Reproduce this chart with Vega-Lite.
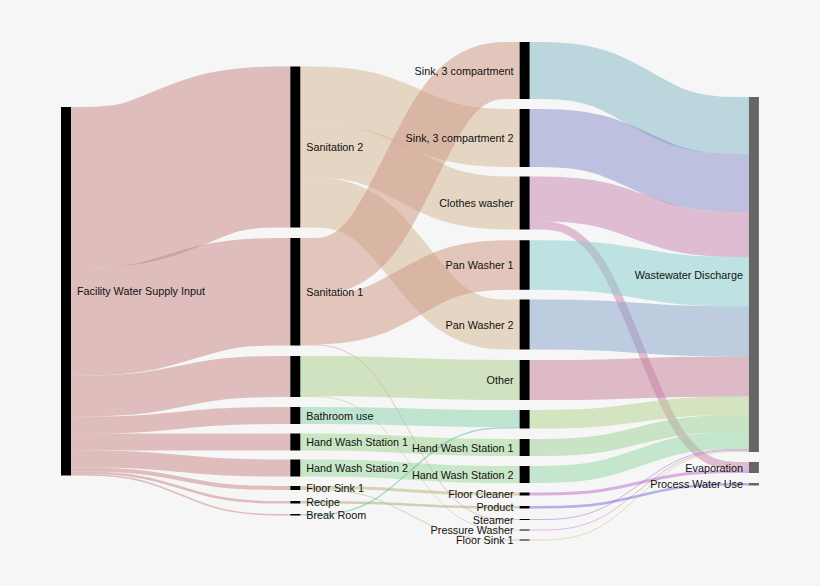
{
  "$schema": "https://vega.github.io/schema/vega-lite/v6.json",
  "width": 820,
  "height": 586,
  "autosize": {"type": "none"},
  "padding": 0,
  "background": "#f6f6f6",
  "config": {"view": {"stroke": null}},
  "datasets": {
    "nodes": [
      {"id": "Facility", "label": "Facility Water Supply Input", "s": 0, "x0": 0, "x1": 0.0436, "y0": 107, "y1": 475.5, "ym": 291.25},
      {"id": "San2", "label": "Sanitation 2", "s": 1, "x0": 1, "x1": 1.0436, "y0": 66.5, "y1": 227.5, "ym": 147},
      {"id": "San1", "label": "Sanitation 1", "s": 1, "x0": 1, "x1": 1.0436, "y0": 238, "y1": 345.5, "ym": 291.75},
      {"id": "Other1", "label": "", "s": 1, "x0": 1, "x1": 1.0436, "y0": 356, "y1": 397, "ym": 376.5},
      {"id": "Bath", "label": "Bathroom use", "s": 1, "x0": 1, "x1": 1.0436, "y0": 407, "y1": 424, "ym": 415.5},
      {"id": "HWS1a", "label": "Hand Wash Station 1", "s": 1, "x0": 1, "x1": 1.0436, "y0": 433.5, "y1": 450.5, "ym": 442},
      {"id": "HWS2a", "label": "Hand Wash Station 2", "s": 1, "x0": 1, "x1": 1.0436, "y0": 459.5, "y1": 476.5, "ym": 468},
      {"id": "FS1a", "label": "Floor Sink 1", "s": 1, "x0": 1, "x1": 1.0436, "y0": 486, "y1": 490, "ym": 488},
      {"id": "Recipe", "label": "Recipe", "s": 1, "x0": 1, "x1": 1.0436, "y0": 501, "y1": 503.5, "ym": 502.25},
      {"id": "Break", "label": "Break Room", "s": 1, "x0": 1, "x1": 1.0436, "y0": 514, "y1": 515.5, "ym": 514.75},
      {"id": "Sink3c", "label": "Sink, 3 compartment", "s": 2, "x0": 2, "x1": 2.0436, "y0": 42, "y1": 99, "ym": 70.5},
      {"id": "Sink3c2", "label": "Sink, 3 compartment 2", "s": 2, "x0": 2, "x1": 2.0436, "y0": 109, "y1": 167, "ym": 138},
      {"id": "CW", "label": "Clothes washer", "s": 2, "x0": 2, "x1": 2.0436, "y0": 176.5, "y1": 229.5, "ym": 203},
      {"id": "PW1", "label": "Pan Washer 1", "s": 2, "x0": 2, "x1": 2.0436, "y0": 240.25, "y1": 289.75, "ym": 265},
      {"id": "PW2", "label": "Pan Washer 2", "s": 2, "x0": 2, "x1": 2.0436, "y0": 299.5, "y1": 349.5, "ym": 324.5},
      {"id": "Other", "label": "Other", "s": 2, "x0": 2, "x1": 2.0436, "y0": 360, "y1": 400, "ym": 380},
      {"id": "Bath2", "label": "", "s": 2, "x0": 2, "x1": 2.0436, "y0": 410, "y1": 428.5, "ym": 419.25},
      {"id": "HWS1b", "label": "Hand Wash Station 1", "s": 2, "x0": 2, "x1": 2.0436, "y0": 439, "y1": 456, "ym": 447.5},
      {"id": "HWS2b", "label": "Hand Wash Station 2", "s": 2, "x0": 2, "x1": 2.0436, "y0": 466, "y1": 483, "ym": 474.5},
      {"id": "FC", "label": "Floor Cleaner", "s": 2, "x0": 2, "x1": 2.0436, "y0": 492.5, "y1": 495.5, "ym": 494},
      {"id": "Product", "label": "Product", "s": 2, "x0": 2, "x1": 2.0436, "y0": 506, "y1": 508.5, "ym": 507.25},
      {"id": "Steamer", "label": "Steamer", "s": 2, "x0": 2, "x1": 2.0436, "y0": 519, "y1": 520, "ym": 519.5},
      {"id": "PWash", "label": "Pressure Washer", "s": 2, "x0": 2, "x1": 2.0436, "y0": 529.5, "y1": 530.5, "ym": 530},
      {"id": "FS1b", "label": "Floor Sink 1", "s": 2, "x0": 2, "x1": 2.0436, "y0": 539.5, "y1": 540.5, "ym": 540},
      {"id": "WD", "label": "Wastewater Discharge", "s": 3, "x0": 3, "x1": 3.0436, "y0": 97, "y1": 452, "ym": 274.5},
      {"id": "Evap", "label": "Evaporation", "s": 3, "x0": 3, "x1": 3.0436, "y0": 462, "y1": 473, "ym": 467.5},
      {"id": "PWU", "label": "Process Water Use", "s": 3, "x0": 3, "x1": 3.0436, "y0": 483, "y1": 485.5, "ym": 484.25}
    ],
    "links": [
      {"l": 1, "c": "Facility", "w": 161, "t": 0, "x": 0.0436, "y": 187.5},
      {"l": 1, "c": "Facility", "w": 161, "t": 1, "x": 0.3624, "y": 187.5},
      {"l": 1, "c": "Facility", "w": 161, "t": 2, "x": 0.6812, "y": 147},
      {"l": 1, "c": "Facility", "w": 161, "t": 3, "x": 1, "y": 147},
      {"l": 2, "c": "Facility", "w": 107.5, "t": 0, "x": 0.0436, "y": 321.75},
      {"l": 2, "c": "Facility", "w": 107.5, "t": 1, "x": 0.3624, "y": 321.75},
      {"l": 2, "c": "Facility", "w": 107.5, "t": 2, "x": 0.6812, "y": 291.75},
      {"l": 2, "c": "Facility", "w": 107.5, "t": 3, "x": 1, "y": 291.75},
      {"l": 3, "c": "Facility", "w": 41, "t": 0, "x": 0.0436, "y": 396},
      {"l": 3, "c": "Facility", "w": 41, "t": 1, "x": 0.3624, "y": 396},
      {"l": 3, "c": "Facility", "w": 41, "t": 2, "x": 0.6812, "y": 376.5},
      {"l": 3, "c": "Facility", "w": 41, "t": 3, "x": 1, "y": 376.5},
      {"l": 4, "c": "Facility", "w": 17, "t": 0, "x": 0.0436, "y": 425},
      {"l": 4, "c": "Facility", "w": 17, "t": 1, "x": 0.3624, "y": 425},
      {"l": 4, "c": "Facility", "w": 17, "t": 2, "x": 0.6812, "y": 415.5},
      {"l": 4, "c": "Facility", "w": 17, "t": 3, "x": 1, "y": 415.5},
      {"l": 5, "c": "Facility", "w": 17, "t": 0, "x": 0.0436, "y": 442},
      {"l": 5, "c": "Facility", "w": 17, "t": 1, "x": 0.3624, "y": 442},
      {"l": 5, "c": "Facility", "w": 17, "t": 2, "x": 0.6812, "y": 442},
      {"l": 5, "c": "Facility", "w": 17, "t": 3, "x": 1, "y": 442},
      {"l": 6, "c": "Facility", "w": 17, "t": 0, "x": 0.0436, "y": 459},
      {"l": 6, "c": "Facility", "w": 17, "t": 1, "x": 0.3624, "y": 459},
      {"l": 6, "c": "Facility", "w": 17, "t": 2, "x": 0.6812, "y": 468},
      {"l": 6, "c": "Facility", "w": 17, "t": 3, "x": 1, "y": 468},
      {"l": 7, "c": "Facility", "w": 4, "t": 0, "x": 0.0436, "y": 469.5},
      {"l": 7, "c": "Facility", "w": 4, "t": 1, "x": 0.3624, "y": 469.5},
      {"l": 7, "c": "Facility", "w": 4, "t": 2, "x": 0.6812, "y": 488},
      {"l": 7, "c": "Facility", "w": 4, "t": 3, "x": 1, "y": 488},
      {"l": 8, "c": "Facility", "w": 2.5, "t": 0, "x": 0.0436, "y": 472.75},
      {"l": 8, "c": "Facility", "w": 2.5, "t": 1, "x": 0.3624, "y": 472.75},
      {"l": 8, "c": "Facility", "w": 2.5, "t": 2, "x": 0.6812, "y": 502.25},
      {"l": 8, "c": "Facility", "w": 2.5, "t": 3, "x": 1, "y": 502.25},
      {"l": 9, "c": "Facility", "w": 1.5, "t": 0, "x": 0.0436, "y": 474.75},
      {"l": 9, "c": "Facility", "w": 1.5, "t": 1, "x": 0.3624, "y": 474.75},
      {"l": 9, "c": "Facility", "w": 1.5, "t": 2, "x": 0.6812, "y": 514.75},
      {"l": 9, "c": "Facility", "w": 1.5, "t": 3, "x": 1, "y": 514.75},
      {"l": 10, "c": "San2", "w": 58, "t": 0, "x": 1.0436, "y": 95.5},
      {"l": 10, "c": "San2", "w": 58, "t": 1, "x": 1.3624, "y": 95.5},
      {"l": 10, "c": "San2", "w": 58, "t": 2, "x": 1.6812, "y": 138},
      {"l": 10, "c": "San2", "w": 58, "t": 3, "x": 2, "y": 138},
      {"l": 11, "c": "San2", "w": 53, "t": 0, "x": 1.0436, "y": 151},
      {"l": 11, "c": "San2", "w": 53, "t": 1, "x": 1.3624, "y": 151},
      {"l": 11, "c": "San2", "w": 53, "t": 2, "x": 1.6812, "y": 203},
      {"l": 11, "c": "San2", "w": 53, "t": 3, "x": 2, "y": 203},
      {"l": 12, "c": "San2", "w": 50, "t": 0, "x": 1.0436, "y": 202.5},
      {"l": 12, "c": "San2", "w": 50, "t": 1, "x": 1.3624, "y": 202.5},
      {"l": 12, "c": "San2", "w": 50, "t": 2, "x": 1.6812, "y": 324.5},
      {"l": 12, "c": "San2", "w": 50, "t": 3, "x": 2, "y": 324.5},
      {"l": 13, "c": "San1", "w": 57, "t": 0, "x": 1.0436, "y": 266.5},
      {"l": 13, "c": "San1", "w": 57, "t": 1, "x": 1.3624, "y": 266.5},
      {"l": 13, "c": "San1", "w": 57, "t": 2, "x": 1.6812, "y": 70.5},
      {"l": 13, "c": "San1", "w": 57, "t": 3, "x": 2, "y": 70.5},
      {"l": 14, "c": "San1", "w": 49.5, "t": 0, "x": 1.0436, "y": 319.75},
      {"l": 14, "c": "San1", "w": 49.5, "t": 1, "x": 1.3624, "y": 319.75},
      {"l": 14, "c": "San1", "w": 49.5, "t": 2, "x": 1.6812, "y": 265},
      {"l": 14, "c": "San1", "w": 49.5, "t": 3, "x": 2, "y": 265},
      {"l": 15, "c": "San1", "w": 1, "t": 0, "x": 1.0436, "y": 345},
      {"l": 15, "c": "San1", "w": 1, "t": 1, "x": 1.3624, "y": 345},
      {"l": 15, "c": "San1", "w": 1, "t": 2, "x": 1.6812, "y": 519.5},
      {"l": 15, "c": "San1", "w": 1, "t": 3, "x": 2, "y": 519.5},
      {"l": 16, "c": "Other1", "w": 40, "t": 0, "x": 1.0436, "y": 376},
      {"l": 16, "c": "Other1", "w": 40, "t": 1, "x": 1.3624, "y": 376},
      {"l": 16, "c": "Other1", "w": 40, "t": 2, "x": 1.6812, "y": 380},
      {"l": 16, "c": "Other1", "w": 40, "t": 3, "x": 2, "y": 380},
      {"l": 17, "c": "Other1", "w": 1, "t": 0, "x": 1.0436, "y": 396.5},
      {"l": 17, "c": "Other1", "w": 1, "t": 1, "x": 1.3624, "y": 396.5},
      {"l": 17, "c": "Other1", "w": 1, "t": 2, "x": 1.6812, "y": 530},
      {"l": 17, "c": "Other1", "w": 1, "t": 3, "x": 2, "y": 530},
      {"l": 18, "c": "Bath", "w": 17, "t": 0, "x": 1.0436, "y": 415.5},
      {"l": 18, "c": "Bath", "w": 17, "t": 1, "x": 1.3624, "y": 415.5},
      {"l": 18, "c": "Bath", "w": 17, "t": 2, "x": 1.6812, "y": 418.5},
      {"l": 18, "c": "Bath", "w": 17, "t": 3, "x": 2, "y": 418.5},
      {"l": 19, "c": "HWS1a", "w": 17, "t": 0, "x": 1.0436, "y": 442},
      {"l": 19, "c": "HWS1a", "w": 17, "t": 1, "x": 1.3624, "y": 442},
      {"l": 19, "c": "HWS1a", "w": 17, "t": 2, "x": 1.6812, "y": 447.5},
      {"l": 19, "c": "HWS1a", "w": 17, "t": 3, "x": 2, "y": 447.5},
      {"l": 20, "c": "HWS2a", "w": 17, "t": 0, "x": 1.0436, "y": 468},
      {"l": 20, "c": "HWS2a", "w": 17, "t": 1, "x": 1.3624, "y": 468},
      {"l": 20, "c": "HWS2a", "w": 17, "t": 2, "x": 1.6812, "y": 474.5},
      {"l": 20, "c": "HWS2a", "w": 17, "t": 3, "x": 2, "y": 474.5},
      {"l": 21, "c": "FS1a", "w": 3, "t": 0, "x": 1.0436, "y": 487.5},
      {"l": 21, "c": "FS1a", "w": 3, "t": 1, "x": 1.3624, "y": 487.5},
      {"l": 21, "c": "FS1a", "w": 3, "t": 2, "x": 1.6812, "y": 494},
      {"l": 21, "c": "FS1a", "w": 3, "t": 3, "x": 2, "y": 494},
      {"l": 22, "c": "FS1a", "w": 1, "t": 0, "x": 1.0436, "y": 489.5},
      {"l": 22, "c": "FS1a", "w": 1, "t": 1, "x": 1.3624, "y": 489.5},
      {"l": 22, "c": "FS1a", "w": 1, "t": 2, "x": 1.6812, "y": 540},
      {"l": 22, "c": "FS1a", "w": 1, "t": 3, "x": 2, "y": 540},
      {"l": 23, "c": "Recipe", "w": 2.5, "t": 0, "x": 1.0436, "y": 502.25},
      {"l": 23, "c": "Recipe", "w": 2.5, "t": 1, "x": 1.3624, "y": 502.25},
      {"l": 23, "c": "Recipe", "w": 2.5, "t": 2, "x": 1.6812, "y": 507.25},
      {"l": 23, "c": "Recipe", "w": 2.5, "t": 3, "x": 2, "y": 507.25},
      {"l": 24, "c": "Break", "w": 1.5, "t": 0, "x": 1.0436, "y": 514.75},
      {"l": 24, "c": "Break", "w": 1.5, "t": 1, "x": 1.3624, "y": 514.75},
      {"l": 24, "c": "Break", "w": 1.5, "t": 2, "x": 1.6812, "y": 427.75},
      {"l": 24, "c": "Break", "w": 1.5, "t": 3, "x": 2, "y": 427.75},
      {"l": 25, "c": "Sink3c", "w": 57, "t": 0, "x": 2.0436, "y": 70.5},
      {"l": 25, "c": "Sink3c", "w": 57, "t": 1, "x": 2.3624, "y": 70.5},
      {"l": 25, "c": "Sink3c", "w": 57, "t": 2, "x": 2.6812, "y": 125.5},
      {"l": 25, "c": "Sink3c", "w": 57, "t": 3, "x": 3, "y": 125.5},
      {"l": 26, "c": "Sink3c2", "w": 58, "t": 0, "x": 2.0436, "y": 138},
      {"l": 26, "c": "Sink3c2", "w": 58, "t": 1, "x": 2.3624, "y": 138},
      {"l": 26, "c": "Sink3c2", "w": 58, "t": 2, "x": 2.6812, "y": 183},
      {"l": 26, "c": "Sink3c2", "w": 58, "t": 3, "x": 3, "y": 183},
      {"l": 27, "c": "CW", "w": 45, "t": 0, "x": 2.0436, "y": 199},
      {"l": 27, "c": "CW", "w": 45, "t": 1, "x": 2.3624, "y": 199},
      {"l": 27, "c": "CW", "w": 45, "t": 2, "x": 2.6812, "y": 234.5},
      {"l": 27, "c": "CW", "w": 45, "t": 3, "x": 3, "y": 234.5},
      {"l": 28, "c": "CW", "w": 8, "t": 0, "x": 2.0436, "y": 225.5},
      {"l": 28, "c": "CW", "w": 8, "t": 1, "x": 2.3624, "y": 225.5},
      {"l": 28, "c": "CW", "w": 8, "t": 2, "x": 2.6812, "y": 466},
      {"l": 28, "c": "CW", "w": 8, "t": 3, "x": 3, "y": 466},
      {"l": 29, "c": "PW1", "w": 49.5, "t": 0, "x": 2.0436, "y": 265},
      {"l": 29, "c": "PW1", "w": 49.5, "t": 1, "x": 2.3624, "y": 265},
      {"l": 29, "c": "PW1", "w": 49.5, "t": 2, "x": 2.6812, "y": 281.75},
      {"l": 29, "c": "PW1", "w": 49.5, "t": 3, "x": 3, "y": 281.75},
      {"l": 30, "c": "PW2", "w": 50, "t": 0, "x": 2.0436, "y": 324.5},
      {"l": 30, "c": "PW2", "w": 50, "t": 1, "x": 2.3624, "y": 324.5},
      {"l": 30, "c": "PW2", "w": 50, "t": 2, "x": 2.6812, "y": 331.5},
      {"l": 30, "c": "PW2", "w": 50, "t": 3, "x": 3, "y": 331.5},
      {"l": 31, "c": "Other", "w": 40, "t": 0, "x": 2.0436, "y": 380},
      {"l": 31, "c": "Other", "w": 40, "t": 1, "x": 2.3624, "y": 380},
      {"l": 31, "c": "Other", "w": 40, "t": 2, "x": 2.6812, "y": 376.5},
      {"l": 31, "c": "Other", "w": 40, "t": 3, "x": 3, "y": 376.5},
      {"l": 32, "c": "Bath2", "w": 18.5, "t": 0, "x": 2.0436, "y": 419.25},
      {"l": 32, "c": "Bath2", "w": 18.5, "t": 1, "x": 2.3624, "y": 419.25},
      {"l": 32, "c": "Bath2", "w": 18.5, "t": 2, "x": 2.6812, "y": 405.75},
      {"l": 32, "c": "Bath2", "w": 18.5, "t": 3, "x": 3, "y": 405.75},
      {"l": 33, "c": "HWS1b", "w": 17, "t": 0, "x": 2.0436, "y": 447.5},
      {"l": 33, "c": "HWS1b", "w": 17, "t": 1, "x": 2.3624, "y": 447.5},
      {"l": 33, "c": "HWS1b", "w": 17, "t": 2, "x": 2.6812, "y": 423.5},
      {"l": 33, "c": "HWS1b", "w": 17, "t": 3, "x": 3, "y": 423.5},
      {"l": 34, "c": "HWS2b", "w": 17, "t": 0, "x": 2.0436, "y": 474.5},
      {"l": 34, "c": "HWS2b", "w": 17, "t": 1, "x": 2.3624, "y": 474.5},
      {"l": 34, "c": "HWS2b", "w": 17, "t": 2, "x": 2.6812, "y": 440.5},
      {"l": 34, "c": "HWS2b", "w": 17, "t": 3, "x": 3, "y": 440.5},
      {"l": 35, "c": "Steamer", "w": 1, "t": 0, "x": 2.0436, "y": 519.5},
      {"l": 35, "c": "Steamer", "w": 1, "t": 1, "x": 2.3624, "y": 519.5},
      {"l": 35, "c": "Steamer", "w": 1, "t": 2, "x": 2.6812, "y": 449.5},
      {"l": 35, "c": "Steamer", "w": 1, "t": 3, "x": 3, "y": 449.5},
      {"l": 36, "c": "PWash", "w": 1, "t": 0, "x": 2.0436, "y": 530},
      {"l": 36, "c": "PWash", "w": 1, "t": 1, "x": 2.3624, "y": 530},
      {"l": 36, "c": "PWash", "w": 1, "t": 2, "x": 2.6812, "y": 450.5},
      {"l": 36, "c": "PWash", "w": 1, "t": 3, "x": 3, "y": 450.5},
      {"l": 37, "c": "FS1b", "w": 1, "t": 0, "x": 2.0436, "y": 540},
      {"l": 37, "c": "FS1b", "w": 1, "t": 1, "x": 2.3624, "y": 540},
      {"l": 37, "c": "FS1b", "w": 1, "t": 2, "x": 2.6812, "y": 451.5},
      {"l": 37, "c": "FS1b", "w": 1, "t": 3, "x": 3, "y": 451.5},
      {"l": 38, "c": "FC", "w": 3, "t": 0, "x": 2.0436, "y": 494},
      {"l": 38, "c": "FC", "w": 3, "t": 1, "x": 2.3624, "y": 494},
      {"l": 38, "c": "FC", "w": 3, "t": 2, "x": 2.6812, "y": 471.5},
      {"l": 38, "c": "FC", "w": 3, "t": 3, "x": 3, "y": 471.5},
      {"l": 39, "c": "Product", "w": 2.5, "t": 0, "x": 2.0436, "y": 507.25},
      {"l": 39, "c": "Product", "w": 2.5, "t": 1, "x": 2.3624, "y": 507.25},
      {"l": 39, "c": "Product", "w": 2.5, "t": 2, "x": 2.6812, "y": 484.25},
      {"l": 39, "c": "Product", "w": 2.5, "t": 3, "x": 3, "y": 484.25}
    ]
  },
  "layer": [
    {
      "data": {"name": "links"},
      "mark": {"type": "line", "interpolate": "basis", "strokeOpacity": 0.5, "strokeCap": "butt", "strokeJoin": "round"},
      "encoding": {
        "x": {"field": "x", "type": "quantitative", "scale": {"domain": [-0.266, 3.31], "nice": false, "zero": false}, "axis": null},
        "y": {"field": "y", "type": "quantitative", "scale": {"domain": [0, 586], "nice": false, "zero": false, "reverse": true}, "axis": null},
        "detail": {"field": "l", "type": "nominal"},
        "order": {"field": "t", "type": "quantitative"},
        "size": {"field": "w", "type": "quantitative", "scale": {"type": "linear", "domain": [0, 100], "range": [0, 100], "zero": true}, "legend": null},
        "color": {
          "field": "c", "type": "nominal", "legend": null,
          "scale": {
            "domain": ["Facility", "San2", "San1", "Other1", "Bath", "HWS1a", "HWS2a", "FS1a", "Recipe", "Break", "Sink3c", "Sink3c2", "CW", "PW1", "PW2", "Other", "Bath2", "HWS1b", "HWS2b", "FC", "Product", "Steamer", "PWash", "FS1b"],
            "range": ["#c88484", "#d4b692", "#ce9682", "#acce8a", "#8ad2ae", "#9ed48e", "#9ad69a", "#b8b070", "#b0a870", "#5cc0b0", "#82b6c6", "#868aca", "#c682ae", "#86cece", "#86a2ca", "#c67e96", "#b2d28a", "#9ad292", "#92d6a2", "#ba6aca", "#7a6ad2", "#a070d0", "#d080c0", "#c8c870"]
          }
        }
      }
    },
    {
      "data": {"name": "nodes"},
      "mark": {"type": "rect"},
      "encoding": {
        "x": {"field": "x0", "type": "quantitative"},
        "x2": {"field": "x1"},
        "y": {"field": "y0", "type": "quantitative"},
        "y2": {"field": "y1"},
        "color": {"field": "s", "type": "ordinal", "legend": null, "scale": {"domain": [0, 1, 2, 3], "range": ["#000000", "#000000", "#000000", "#666666"]}}
      }
    },
    {
      "data": {"name": "nodes"},
      "transform": [{"filter": "datum.s <= 1"}],
      "mark": {"type": "text", "align": "left", "baseline": "middle", "dx": 6, "dy": 1, "font": "Liberation Sans", "fontSize": 10.8, "color": "#111111"},
      "encoding": {
        "x": {"field": "x1", "type": "quantitative"},
        "y": {"field": "ym", "type": "quantitative"},
        "text": {"field": "label"}
      }
    },
    {
      "data": {"name": "nodes"},
      "transform": [{"filter": "datum.s >= 2"}],
      "mark": {"type": "text", "align": "right", "baseline": "middle", "dx": -6, "dy": 1, "font": "Liberation Sans", "fontSize": 10.8, "color": "#111111"},
      "encoding": {
        "x": {"field": "x0", "type": "quantitative"},
        "y": {"field": "ym", "type": "quantitative"},
        "text": {"field": "label"}
      }
    }
  ],
  "resolve": {"scale": {"color": "independent"}}
}
